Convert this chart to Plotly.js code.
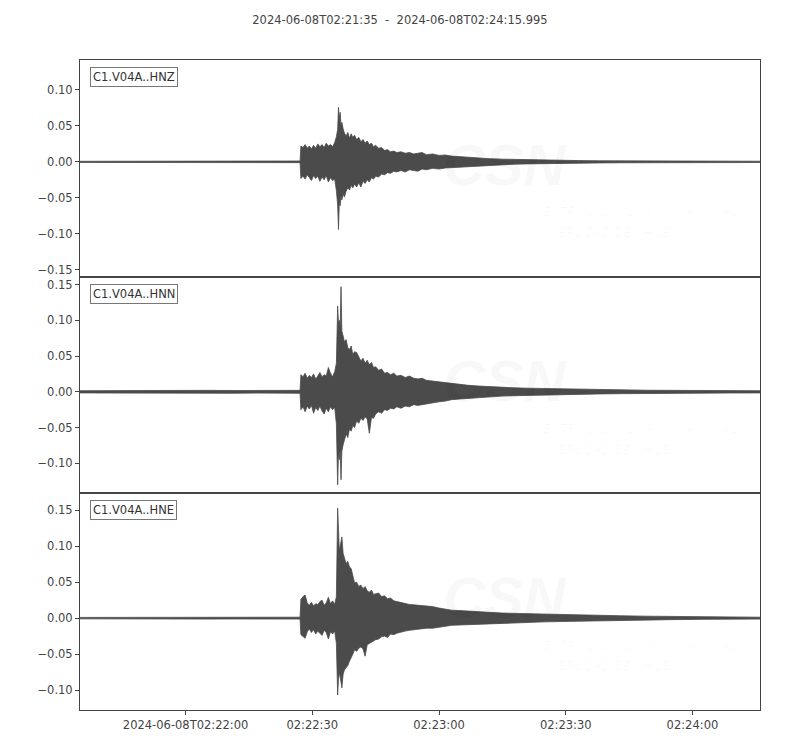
<!DOCTYPE html>
<html>
<head>
<meta charset="utf-8">
<script src="https://cdn.plot.ly/plotly-3.0.1.min.js"></script>
<style>
  html, body { margin: 0; padding: 0; background: #fff; }
  #chart { width: 800px; height: 750px; }
</style>
</head>
<body>
<div id="chart"></div>
<script>
// seconds after 2024-06-08T02:21:35 (trace min/max envelope)
const T = [
  0, 6, 12, 18, 24, 30, 36, 42, 48, 52.1,
  52.3, 52.8, 53.3, 53.8, 54.3, 54.8, 55.3, 55.8, 56.3, 56.8, 57.3, 57.8, 58.3, 58.8, 59.3, 59.8, 60.3, 60.7,
  61.0, 61.2, 61.4, 61.6, 61.8, 62.0, 62.3, 62.6,
  63.0, 63.4, 63.8, 64.2, 64.6, 65.0,
  65.5, 66.0, 66.5, 67.0, 67.5, 68.0, 68.5, 69.0, 69.5, 70.0,
  70.7, 71.4, 72.1, 72.8, 73.5, 74.3, 75.0,
  76, 77, 78, 79, 80, 81, 82,
  83.5, 85, 86.5, 88,
  90, 92, 94.5, 97, 100, 103, 106, 110, 114, 118, 123, 128, 134, 140, 147, 154, 161,
];

const HNZ_HI = [
  0.0008, 0.0009, 0.0008, 0.001, 0.0009, 0.0011, 0.001, 0.0012, 0.0011, 0.0012,
  0.022, 0.020, 0.024, 0.019, 0.022, 0.018, 0.023, 0.019, 0.025, 0.021, 0.024, 0.020, 0.026, 0.022, 0.024, 0.021, 0.027, 0.035,
  0.045, 0.076, 0.060, 0.069, 0.050, 0.055, 0.046, 0.040,
  0.036, 0.041, 0.033, 0.039, 0.034, 0.037,
  0.031, 0.034, 0.028, 0.031, 0.026, 0.029, 0.024, 0.026, 0.021, 0.023,
  0.019, 0.020, 0.016, 0.017, 0.014, 0.015, 0.013,
  0.014, 0.012, 0.013, 0.011, 0.012, 0.013, 0.010,
  0.011, 0.009, 0.0095, 0.008,
  0.007, 0.0065, 0.005, 0.0045, 0.0038, 0.0033, 0.0028, 0.0024, 0.002, 0.0018, 0.0015, 0.0013, 0.0012, 0.0011, 0.001, 0.001, 0.0009,
];
const HNZ_LO = [
  -0.0008, -0.0009, -0.001, -0.0009, -0.0011, -0.0009, -0.0012, -0.001, -0.0012, -0.0011,
  -0.023, -0.020, -0.024, -0.018, -0.022, -0.026, -0.019, -0.023, -0.020, -0.027, -0.021, -0.025, -0.019, -0.028, -0.022, -0.026, -0.024, -0.040,
  -0.060, -0.094, -0.055, -0.061, -0.048, -0.053, -0.045, -0.049,
  -0.041, -0.036, -0.039, -0.033, -0.036, -0.031,
  -0.035, -0.029, -0.035, -0.027, -0.030, -0.025, -0.028, -0.022, -0.024, -0.020,
  -0.021, -0.017, -0.018, -0.015, -0.016, -0.013, -0.014,
  -0.012, -0.014, -0.011, -0.012, -0.013, -0.010, -0.011,
  -0.009, -0.010, -0.0085, -0.008,
  -0.0068, -0.006, -0.005, -0.0042, -0.0037, -0.0032, -0.0028, -0.0023, -0.002, -0.0018, -0.0015, -0.0013, -0.0012, -0.0011, -0.001, -0.001, -0.0009,
];

const HNN_HI = [
  0.0015, 0.0018, 0.0016, 0.0019, 0.0017, 0.002, 0.0018, 0.0021, 0.0019, 0.002,
  0.024, 0.021, 0.026, 0.019, 0.023, 0.020, 0.025, 0.018, 0.022, 0.027, 0.021, 0.024, 0.022, 0.034, 0.026, 0.021, 0.028, 0.040,
  0.120, 0.095, 0.100, 0.090, 0.147, 0.085, 0.078, 0.070,
  0.073, 0.062, 0.059, 0.064, 0.052, 0.056,
  0.055, 0.048, 0.043, 0.047, 0.040, 0.044, 0.038, 0.041, 0.034, 0.035,
  0.030, 0.032, 0.026, 0.027, 0.024, 0.026, 0.022,
  0.023, 0.020, 0.022, 0.019, 0.018, 0.019, 0.016,
  0.015, 0.014, 0.012, 0.011,
  0.0105, 0.009, 0.008, 0.007, 0.006, 0.0055, 0.005, 0.0045, 0.004, 0.0035, 0.003, 0.0026, 0.0022, 0.002, 0.0018, 0.0016, 0.0015,
];
const HNN_LO = [
  -0.0016, -0.0018, -0.0017, -0.002, -0.0018, -0.0019, -0.0021, -0.0018, -0.002, -0.0021,
  -0.025, -0.021, -0.028, -0.020, -0.024, -0.019, -0.030, -0.022, -0.026, -0.020, -0.027, -0.031, -0.023, -0.028, -0.021, -0.025, -0.022, -0.045,
  -0.130, -0.085, -0.095, -0.080, -0.123, -0.083, -0.074, -0.066,
  -0.059, -0.064, -0.052, -0.055, -0.047, -0.050,
  -0.041, -0.044, -0.037, -0.040, -0.035, -0.038, -0.058, -0.036, -0.037, -0.031,
  -0.028, -0.030, -0.025, -0.026, -0.023, -0.024, -0.021,
  -0.023, -0.020, -0.021, -0.018, -0.019, -0.018, -0.016,
  -0.015, -0.014, -0.013, -0.011,
  -0.010, -0.009, -0.008, -0.007, -0.006, -0.0055, -0.005, -0.0045, -0.004, -0.0035, -0.003, -0.0026, -0.0022, -0.002, -0.0018, -0.0017, -0.0016,
];

const HNE_HI = [
  0.001, 0.0011, 0.001, 0.0012, 0.0011, 0.0013, 0.0012, 0.0013, 0.0012, 0.0013,
  0.026, 0.030, 0.032, 0.021, 0.018, 0.022, 0.017, 0.020, 0.019, 0.023, 0.025, 0.018, 0.021, 0.029, 0.020, 0.024, 0.019, 0.030,
  0.153, 0.120, 0.093, 0.100, 0.108, 0.113, 0.090, 0.082,
  0.076, 0.079, 0.071, 0.069, 0.058, 0.049,
  0.050, 0.044, 0.046, 0.041, 0.044, 0.038, 0.036, 0.039, 0.033, 0.034,
  0.035, 0.030, 0.031, 0.027, 0.028, 0.024, 0.023,
  0.022, 0.020, 0.019, 0.0185, 0.018, 0.017, 0.016,
  0.016, 0.014, 0.012, 0.011,
  0.0105, 0.0095, 0.009, 0.008, 0.007, 0.0065, 0.006, 0.0055, 0.005, 0.0045, 0.004, 0.0033, 0.0027, 0.0022, 0.0018, 0.0015, 0.0013,
];
const HNE_LO = [
  -0.001, -0.0012, -0.0011, -0.0012, -0.001, -0.0013, -0.0012, -0.0013, -0.0012, -0.0013,
  -0.023, -0.026, -0.028, -0.019, -0.015, -0.020, -0.016, -0.022, -0.018, -0.021, -0.024, -0.017, -0.020, -0.029, -0.019, -0.022, -0.018, -0.035,
  -0.107, -0.085, -0.076, -0.082, -0.090, -0.097, -0.078, -0.072,
  -0.069, -0.066, -0.060, -0.056, -0.050, -0.044,
  -0.046, -0.042, -0.040, -0.043, -0.053, -0.037, -0.035, -0.033, -0.031, -0.030,
  -0.029, -0.026, -0.025, -0.027, -0.022, -0.023, -0.021,
  -0.019, -0.018, -0.017, -0.016, -0.016, -0.015, -0.014,
  -0.014, -0.0125, -0.0115, -0.010,
  -0.0095, -0.009, -0.008, -0.0075, -0.0068, -0.006, -0.0058, -0.0052, -0.0047, -0.0042, -0.0038, -0.0031, -0.0026, -0.0021, -0.0017, -0.0014, -0.0013,
];

const CHANNELS = ['C1.V04A..HNZ', 'C1.V04A..HNN', 'C1.V04A..HNE'];
const Y_RANGES = [[-0.1597, 0.1417], [-0.142, 0.161], [-0.1278, 0.1736]];
const TICK_SECONDS = [25, 55, 85, 115, 145];
const TICK_LABELS = ['2024-06-08T02:22:00', '02:22:30', '02:23:00', '02:23:30', '02:24:00'];
const TITLE = '2024-06-08T02:21:35  -  2024-06-08T02:24:15.995';
const WATERMARK = ['CSN', 'CENTRO SISMOLÓGICO NACIONAL', 'UNIVERSIDAD DE CHILE'];

const INK = '#4b4b4b';
const TEXT = '#444';
const FONT = 'DejaVu Sans';
const GHOST = 'rgba(0,0,0,0.028)';

(() => {
  const series = [[HNZ_LO, HNZ_HI], [HNN_LO, HNN_HI], [HNE_LO, HNE_HI]];
  const traces = [];
  series.forEach(([lo, hi], i) => {
    const ax = i === 0 ? '' : String(i + 1);
    traces.push({
      type: 'scatter', mode: 'lines', x: T, y: lo, xaxis: 'x' + ax, yaxis: 'y' + ax,
      line: { color: INK, width: 0.8 }, hoverinfo: 'skip', showlegend: false,
    });
    traces.push({
      type: 'scatter', mode: 'lines', x: T, y: hi, xaxis: 'x' + ax, yaxis: 'y' + ax,
      line: { color: INK, width: 0.8 }, fill: 'tonexty', fillcolor: INK,
      hoverinfo: 'skip', showlegend: false,
    });
  });

  const frame = {
    showline: true, mirror: true, linecolor: TEXT, linewidth: 1,
    showgrid: false, zeroline: false,
  };
  const layout = {
    width: 800, height: 750,
    margin: { l: 80, r: 40, t: 60, b: 40 },
    paper_bgcolor: '#fff', plot_bgcolor: '#fff',
    font: { family: FONT, color: TEXT, size: 11.5 },
    title: {
      text: TITLE, xref: 'container', yref: 'container', x: 0.5, y: 1 - 20 / 750,
      xanchor: 'center', yanchor: 'middle', font: { family: FONT, color: TEXT, size: 11.5 },
    },
    annotations: [],
  };

  const doms = [[2 / 3, 1], [1 / 3, 2 / 3], [0, 1 / 3]];
  CHANNELS.forEach((name, i) => {
    const ax = i === 0 ? '' : String(i + 1);
    const bottom = i === 2;
    layout['xaxis' + ax] = {
      ...frame, domain: [0, 1], anchor: 'y' + ax, range: [0, 160.995],
      matches: i === 0 ? undefined : 'x',
      showticklabels: bottom, ticks: bottom ? 'outside' : '', ticklen: 4, tickcolor: TEXT,
      tickmode: 'array', tickvals: TICK_SECONDS, ticktext: TICK_LABELS,
      tickfont: { family: FONT, color: TEXT, size: 11.5 },
    };
    layout['yaxis' + ax] = {
      ...frame, domain: doms[i], anchor: 'x' + ax, range: Y_RANGES[i],
      tickmode: 'linear', tick0: 0, dtick: 0.05, tickformat: '.2f',
      ticks: 'outside', ticklen: 4, tickcolor: TEXT,
      tickfont: { family: FONT, color: TEXT, size: 11.5 },
    };
    const xr = 'x' + ax + ' domain', yr = 'y' + ax + ' domain';
    // faint CSN watermark
    layout.annotations.push(
      { xref: xr, yref: yr, x: 0.625, y: 0.52, text: WATERMARK[0], showarrow: false,
        font: { family: 'Liberation Sans', size: 58, color: GHOST, weight: 700, style: 'italic' } },
      { xref: xr, yref: yr, x: 0.664, y: 0.255, xanchor: 'left', text: WATERMARK[1], showarrow: false,
        font: { family: 'Liberation Sans', size: 12, color: GHOST, style: 'italic' } },
      { xref: xr, yref: yr, x: 0.658, y: 0.16, xanchor: 'left', text: WATERMARK[2], showarrow: false,
        font: { family: 'Liberation Sans', size: 12, color: GHOST, style: 'italic' } },
    );
    layout.annotations.push({
      xref: xr, yref: yr, x: 0.0147, y: 0.968, xanchor: 'left', yanchor: 'top',
      text: name, showarrow: false, bgcolor: '#fff', bordercolor: '#777', borderwidth: 1, borderpad: 2,
      font: { family: FONT, color: '#333', size: 11.5 },
    });
  });

  Plotly.newPlot('chart', traces, layout, { displayModeBar: false, staticPlot: true });
})();
</script>
</body>
</html>
